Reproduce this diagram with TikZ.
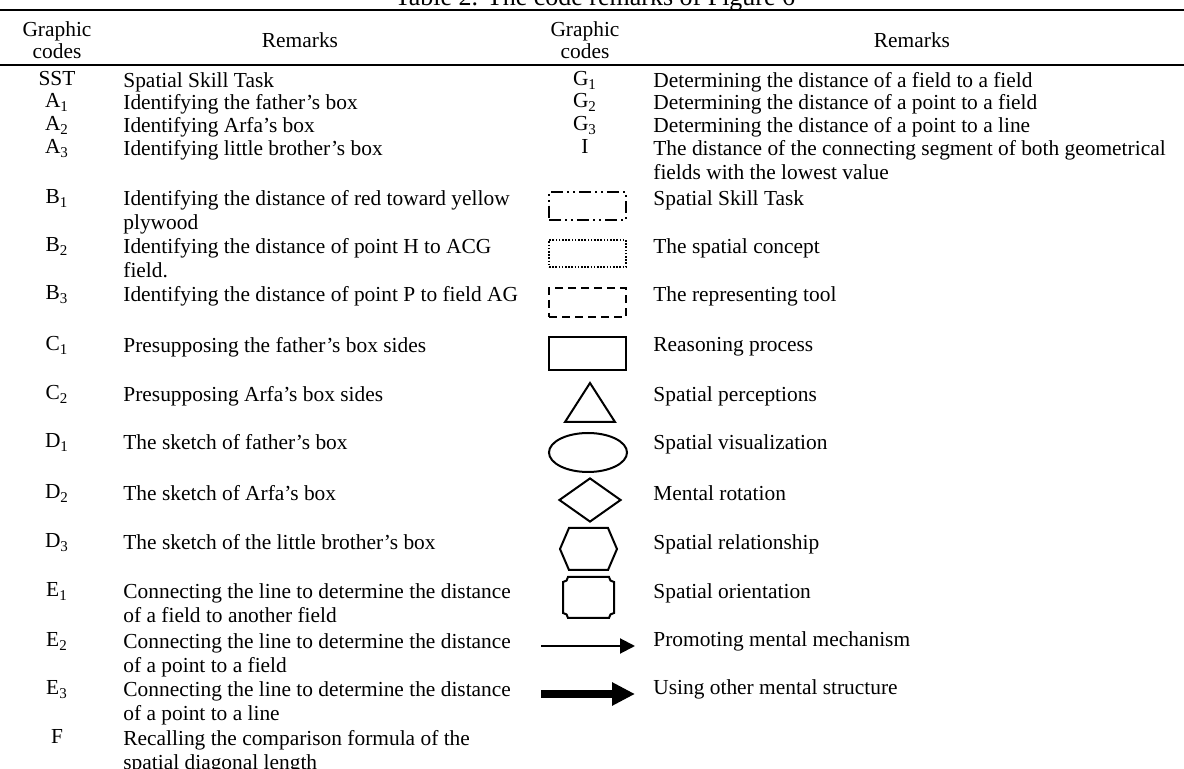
\documentclass[tikz,border=0pt]{standalone}
\usepackage{fontspec}
\setmainfont{Liberation Serif}
\usetikzlibrary{arrows.meta,shapes.geometric}

\begin{document}
\begin{tikzpicture}[x=0.5pt, y=-0.5pt,
        code/.style={anchor=base, inner sep=0pt, font=\fontsize{10.7}{12}\selectfont},
        remark/.style={anchor=north west, inner sep=0pt, align=left, font=\fontsize{10.7}{12}\selectfont},
        head/.style={anchor=north, inner sep=0pt, align=center, font=\fontsize{10.7}{11}\selectfont},
        symb/.style={draw, line width=1pt, inner sep=0pt, minimum width=38.5pt},
    ]
    \clip (0,0) rectangle (1184,769);
    \useasboundingbox (0,0) rectangle (1184,769);

    % caption and rules
    \node[anchor=base, inner sep=0pt, font=\fontsize{13}{15}\selectfont] (title) at (595,6) {Table 2. The code remarks of Figure 6};
    \draw[line width=1.2pt] (0,10) -- (1184,10);
    \draw[line width=1.2pt] (0,65) -- (1184,65);

    % header
    \node[head] (hcodeL) at (57,21) {Graphic\\codes};
    \node[code] (hremL) at (300,48) {Remarks};
    \node[head] (hcodeR) at (585,21) {Graphic\\codes};
    \node[code] (hremR) at (912,48) {Remarks};

    % left codes
    \node[code] (cSST) at (57,86) {SST};
    \node[code] (cA1) at (57,108) {A\textsubscript{1}};
    \node[code] (cA2) at (57,131) {A\textsubscript{2}};
    \node[code] (cA3) at (57,154) {A\textsubscript{3}};
    \node[code] (cB1) at (57,204) {B\textsubscript{1}};
    \node[code] (cB2) at (57,252) {B\textsubscript{2}};
    \node[code] (cB3) at (57,300) {B\textsubscript{3}};
    \node[code] (cC1) at (57,351) {C\textsubscript{1}};
    \node[code] (cC2) at (57,400) {C\textsubscript{2}};
    \node[code] (cD1) at (57,448) {D\textsubscript{1}};
    \node[code] (cD2) at (57,499) {D\textsubscript{2}};
    \node[code] (cD3) at (57,548) {D\textsubscript{3}};
    \node[code] (cE1) at (57,597) {E\textsubscript{1}};
    \node[code] (cE2) at (57,647) {E\textsubscript{2}};
    \node[code] (cE3) at (57,695) {E\textsubscript{3}};
    \node[code] (cF) at (57,744) {F};

    % left remarks
    \node[remark] (rSST) at (123,72) {Spatial Skill Task};
    \node[remark] (rA1) at (123,94) {Identifying the father’s box};
    \node[remark] (rA2) at (123,117) {Identifying Arfa’s box};
    \node[remark] (rA3) at (123,140) {Identifying little brother’s box};
    \node[remark] (rB1) at (123,190) {Identifying the distance of red toward yellow\\plywood};
    \node[remark] (rB2) at (123,238) {Identifying the distance of point H to ACG\\field.};
    \node[remark] (rB3) at (123,286) {Identifying the distance of point P to field AG};
    \node[remark] (rC1) at (123,337) {Presupposing the father’s box sides};
    \node[remark] (rC2) at (123,386) {Presupposing Arfa’s box sides};
    \node[remark] (rD1) at (123,434) {The sketch of father’s box};
    \node[remark] (rD2) at (123,485) {The sketch of Arfa’s box};
    \node[remark] (rD3) at (123,534) {The sketch of the little brother’s box};
    \node[remark] (rE1) at (123,583) {Connecting the line to determine the distance\\of a field to another field};
    \node[remark] (rE2) at (123,633) {Connecting the line to determine the distance\\of a point to a field};
    \node[remark] (rE3) at (123,681) {Connecting the line to determine the distance\\of a point to a line};
    \node[remark] (rF) at (123,730) {Recalling the comparison formula of the\\spatial diagonal length};

    % right codes
    \node[code] (cG1) at (585,86) {G\textsubscript{1}};
    \node[code] (cG2) at (585,108) {G\textsubscript{2}};
    \node[code] (cG3) at (585,131) {G\textsubscript{3}};
    \node[code] (cI) at (585,154) {I};

    % right symbols
    \node[symb, minimum height=14pt, dash pattern=on 6pt off 2pt on 1pt off 2pt on 1pt off 2pt] (sTask) at (587.5,206) {};
    \node[symb, minimum height=13.5pt, dash pattern=on 0.8pt off 0.8pt] (sConcept) at (587.5,253.5) {};
    \node[symb, minimum height=14.5pt, dash pattern=on 4pt off 2.5pt] (sTool) at (587.5,302.5) {};
    \node[symb, line width=1.4pt, minimum height=16.5pt] (sReason) at (587.5,353.5) {};
    \draw[line width=1pt, line join=miter] (565,422) -- (590,383) -- (615,422) -- cycle;
    \node[symb, ellipse, minimum width=39pt, minimum height=19.5pt] (sVisual) at (588,452.5) {};
    \node[symb, diamond, minimum width=31pt, minimum height=22pt] (sRotate) at (590,500) {};
    \draw[line width=1pt] (560,549) -- (569,528) -- (608,528) -- (617,549) -- (608,570) -- (569,570) -- cycle;
    \draw[line width=1pt] (568,577) -- (609,577)
        .. controls (609,579.8) and (611.2,582) .. (614,582) -- (614,613)
        .. controls (611.2,613) and (609,615.2) .. (609,618) -- (568,618)
        .. controls (568,615.2) and (565.8,613) .. (563,613) -- (563,582)
        .. controls (565.8,582) and (568,579.8) .. (568,577) -- cycle;
    \coordinate (pmA) at (541,646);
    \coordinate (pmB) at (635,646);
    \draw[line width=1pt, -{Triangle[length=7.5pt, width=7.5pt]}] (pmA) -- (pmB);
    \coordinate (umA) at (541,694);
    \coordinate (umB) at (635,694);
    \draw[line width=4pt, -{Triangle[length=11.5pt, width=11pt]}] (umA) -- (umB);

    % right remarks
    \node[remark] (rG1) at (653,72) {Determining the distance of a field to a field};
    \node[remark] (rG2) at (653,94) {Determining the distance of a point to a field};
    \node[remark] (rG3) at (653,117) {Determining the distance of a point to a line};
    \node[remark] (rI) at (653,140) {The distance of the connecting segment of both geometrical\\fields with the lowest value};
    \node[remark] (rTask) at (653,190) {Spatial Skill Task};
    \node[remark] (rConcept) at (653,238) {The spatial concept};
    \node[remark] (rTool) at (653,286) {The representing tool};
    \node[remark] (rReason) at (653,337) {Reasoning process};
    \node[remark] (rPercept) at (653,386) {Spatial perceptions};
    \node[remark] (rVisual) at (653,434) {Spatial visualization};
    \node[remark] (rRotate) at (653,485) {Mental rotation};
    \node[remark] (rRelate) at (653,534) {Spatial relationship};
    \node[remark] (rOrient) at (653,583) {Spatial orientation};
    \node[remark] (rPromote) at (653,631) {Promoting mental mechanism};
    \node[remark] (rUse) at (653,679) {Using other mental structure};
\end{tikzpicture}
\end{document}
